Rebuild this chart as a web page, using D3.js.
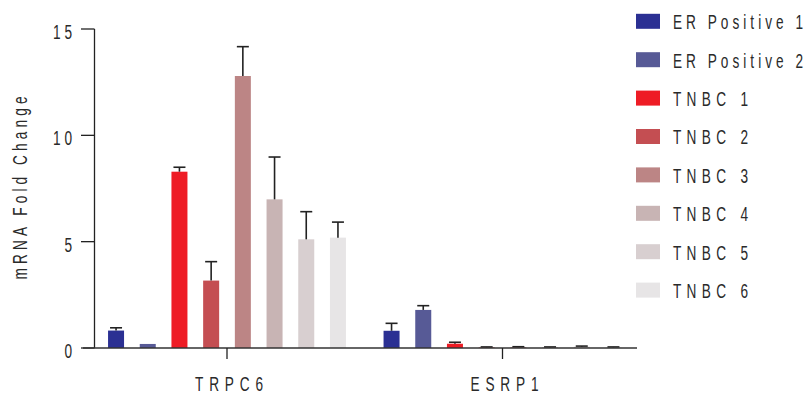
<!DOCTYPE html>
<html>
<head>
<meta charset="utf-8">
<script src="https://cdn.jsdelivr.net/npm/d3@7"></script>
<style>
  html, body { margin: 0; padding: 0; background: #fff; }
  text { font-family: "Liberation Sans", Arial, sans-serif; fill: #2a2a2a; }
</style>
</head>
<body>
<svg id="chart" width="809" height="394"></svg>
<script>
// ─── Data ──────────────────────────────────────────────────────────────────
const genes = ["TRPC6", "ESRP1"];
const samples = ["ER Positive 1", "ER Positive 2", "TNBC 1", "TNBC 2", "TNBC 3", "TNBC 4", "TNBC 5", "TNBC 6"];
const colors = ["#2b3093", "#575a96", "#ee1c25", "#c44e52", "#bc8585", "#c8b4b4", "#d8cfd0", "#e7e5e6"];
// mean fold change per sample, one array per gene
const trpc6Mean = [0.82, 0.19, 8.29, 3.17, 12.79, 6.99, 5.11, 5.19];
const trpc6Err  = [0.13, 0.0, 0.21, 0.89, 1.38, 1.99, 1.30, 0.73];
const esrp1Mean = [0.81, 1.79, 0.2, 0.03, 0.04, 0.03, 0.06, 0.03];
const esrp1Err  = [0.35, 0.20, 0.07, 0.02, 0.02, 0.02, 0.03, 0.02];
const yTicks = [0, 5, 10, 15];

const means = [trpc6Mean, esrp1Mean];
const errs = [trpc6Err, esrp1Err];

// ─── Layout ────────────────────────────────────────────────────────────────
const svg = d3.select("#chart");
const axisX = 94.5, x0 = 83, x1 = 637;
const y = d3.scaleLinear().domain([0, 15]).range([348, 29]);

const xGroup = d3.scalePoint().domain(genes).range([227, 502.5]);
const step = 31.7;
const barW = 16;
const xBar = d3.scaleLinear().domain([0, samples.length - 1])
  .range([-step * (samples.length - 1) / 2, step * (samples.length - 1) / 2]);

// tall, narrow, widely spaced lettering (Prism-like)
const FS = 21;
const SX = 0.65;
function label(parent, x, yy, str, anchor, width, rotate) {
  const g = parent.append("g")
    .attr("transform", `translate(${x},${yy})${rotate ? " rotate(-90)" : ""} scale(${SX},1)`);
  const t = g.append("text")
    .attr("text-anchor", anchor)
    .attr("font-size", FS)
    .text(str);
  if (width) t.attr("textLength", width / SX).attr("lengthAdjust", "spacing");
  return t;
}

// ─── Bars + error bars ─────────────────────────────────────────────────────
genes.forEach((g, gi) => {
  const rows = samples.map((s, i) => ({ s, i, v: means[gi][i], e: errs[gi][i] }));
  const grp = svg.append("g");
  grp.selectAll("rect").data(rows).join("rect")
    .attr("x", d => xGroup(g) + xBar(d.i) - barW / 2)
    .attr("y", d => y(d.v))
    .attr("width", barW)
    .attr("height", d => y(0) - y(d.v))
    .attr("fill", d => colors[d.i]);

  const eb = grp.selectAll("g.err").data(rows.filter(d => d.e > 0)).join("g").attr("class", "err");
  eb.append("line")
    .attr("x1", d => xGroup(g) + xBar(d.i)).attr("x2", d => xGroup(g) + xBar(d.i))
    .attr("y1", d => y(d.v)).attr("y2", d => y(d.v + d.e))
    .attr("stroke", "#222").attr("stroke-width", 1.6);
  eb.append("line")
    .attr("x1", d => xGroup(g) + xBar(d.i) - 6).attr("x2", d => xGroup(g) + xBar(d.i) + 6)
    .attr("y1", d => y(d.v + d.e)).attr("y2", d => y(d.v + d.e))
    .attr("stroke", "#222").attr("stroke-width", 1.6);
});

// ─── Axes ──────────────────────────────────────────────────────────────────
const yAxis = svg.append("g");
yAxis.append("line").attr("x1", axisX).attr("x2", axisX).attr("y1", y(15)).attr("y2", y(0))
  .attr("stroke", "#222").attr("stroke-width", 1.3);
yAxis.selectAll("line.tick").data(yTicks).join("line").attr("class", "tick")
  .attr("x1", 81).attr("x2", axisX).attr("y1", d => y(d)).attr("y2", d => y(d))
  .attr("stroke", "#222").attr("stroke-width", 1.3);
yTicks.forEach(v => label(yAxis, 72, y(v) + 10, String(v), "end", String(v).length > 1 ? 19 : null));

const xAxis = svg.append("g");
xAxis.append("line").attr("x1", x0).attr("x2", x1).attr("y1", y(0)).attr("y2", y(0))
  .attr("stroke", "#333").attr("stroke-width", 1.3);
xAxis.selectAll("line.tick").data(genes).join("line").attr("class", "tick")
  .attr("x1", d => xGroup(d)).attr("x2", d => xGroup(d)).attr("y1", y(0)).attr("y2", y(0) + 11)
  .attr("stroke", "#222").attr("stroke-width", 1.3);
genes.forEach(gn => label(xAxis, xGroup(gn) + 2, 390.5, gn, "middle", 68));

label(svg, 27, 188, "mRNA Fold Change", "middle", 183, true);

// ─── Legend ────────────────────────────────────────────────────────────────
const legend = svg.append("g");
samples.forEach((s, i) => {
  const cy = 21.3 + i * 38.4;
  legend.append("rect").attr("x", 636).attr("y", cy - 7.5).attr("width", 24).attr("height", 15)
    .attr("fill", colors[i]);
  label(legend, 673, cy + 7.8, s, "start", s.startsWith("ER") ? 130 : 75);
});
</script>
</body>
</html>
